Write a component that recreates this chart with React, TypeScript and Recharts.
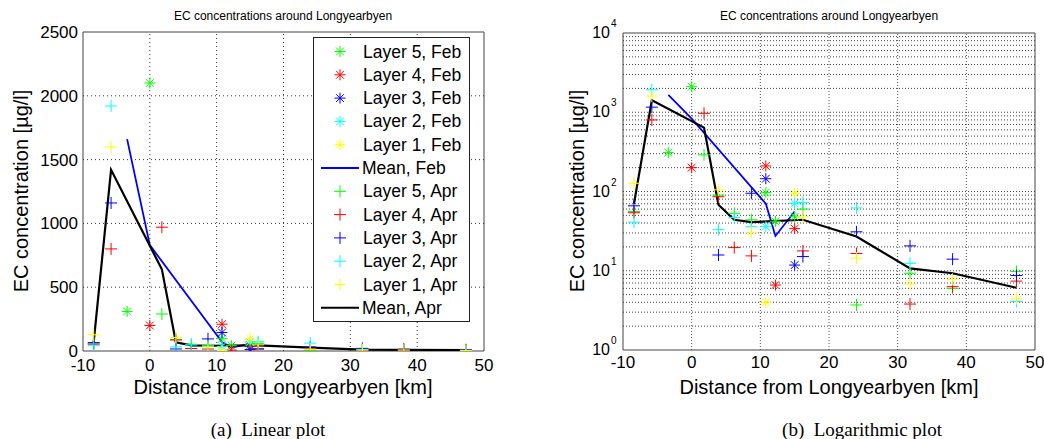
import React from 'react';
import {
  ComposedChart,
  Scatter,
  Line,
  XAxis,
  YAxis,
  ReferenceLine,
  ReferenceArea,
  Legend,
} from 'recharts';

// sampling distances [km]
const febDistance = [-3.4, 0, 10.8, 12.2, 15];
const aprDistance = [-8.4, -5.8, 1.8, 3.9, 6.2, 8.7, 16.2, 24, 31.8, 38, 47.3];

// EC concentration [µg/l], February (asterisks)
const febLayer5 = [310, 2100, 97, 42, 48];
const febLayer4 = [null, 200, 210, 6.6, 34];
const febLayer3 = [null, null, 145, null, 11.8];
const febLayer2 = [null, null, 36, null, 71];
const febLayer1 = [null, null, 4, null, 95];
const febMean = [1660, 830, 70, 27.5, 56];

// EC concentration [µg/l], April (plus markers)
const aprLayer5 = [56, null, 290, 90, 53, 44, 60, 3.7, 9.3, 6.0, 9.8];
const aprLayer4 = [54, 800, 970, 86, 19.6, 15.4, 17.8, 16.5, 3.8, 6.3, 7.4];
const aprLayer3 = [66, 1160, null, 15.8, null, 95, 15.1, 31, 20.6, 14, 8.7];
const aprLayer2 = [41, 1920, null, 33, 47, 36, 73, 62, 12.4, null, 4.1];
const aprLayer1 = [127, 1600, null, 105, null, 30.5, 48, 14.4, 6.8, 7.8, 4.5];
const aprMean = [70, 1420, 640, 68, 44, 41, 44, 27, 10.7, 9.3, 6.1];

const xTicks = [-10, 0, 10, 20, 30, 40, 50];
const linTicks = [0, 500, 1000, 1500, 2000, 2500];
const logTicks = [1, 10, 100, 1000, 10000];

const SANS = '"Liberation Sans", Arial, Helvetica, sans-serif';
const SERIF = '"Liberation Serif", "Times New Roman", serif';

type Pt = { x: number; y: number };
const toPoints = (xs: number[], ys: (number | null)[]): Pt[] =>
  xs.map((x, i) => ({ x, y: ys[i] as number })).filter((p) => p.y != null);

type Series = { name: string; color: string; kind: 'star' | 'plus' | 'line'; data: Pt[] };

const series: Series[] = [
  { name: 'Layer 5, Feb', color: '#00ff00', kind: 'star', data: toPoints(febDistance, febLayer5) },
  { name: 'Layer 4, Feb', color: '#ff0000', kind: 'star', data: toPoints(febDistance, febLayer4) },
  { name: 'Layer 3, Feb', color: '#0000ff', kind: 'star', data: toPoints(febDistance, febLayer3) },
  { name: 'Layer 2, Feb', color: '#00ffff', kind: 'star', data: toPoints(febDistance, febLayer2) },
  { name: 'Layer 1, Feb', color: '#ffff00', kind: 'star', data: toPoints(febDistance, febLayer1) },
  { name: 'Mean, Feb', color: '#0000ff', kind: 'line', data: toPoints(febDistance, febMean) },
  { name: 'Layer 5, Apr', color: '#00ff00', kind: 'plus', data: toPoints(aprDistance, aprLayer5) },
  { name: 'Layer 4, Apr', color: '#ff0000', kind: 'plus', data: toPoints(aprDistance, aprLayer4) },
  { name: 'Layer 3, Apr', color: '#0000ff', kind: 'plus', data: toPoints(aprDistance, aprLayer3) },
  { name: 'Layer 2, Apr', color: '#00ffff', kind: 'plus', data: toPoints(aprDistance, aprLayer2) },
  { name: 'Layer 1, Apr', color: '#ffff00', kind: 'plus', data: toPoints(aprDistance, aprLayer1) },
  { name: 'Mean, Apr', color: '#000000', kind: 'line', data: toPoints(aprDistance, aprMean) },
];

function Star({ cx, cy, color }: { cx: number; cy: number; color: string }) {
  const r = 5.5;
  const d = 3.9;
  return (
    <g stroke={color} strokeWidth={1}>
      <line x1={cx - r} y1={cy} x2={cx + r} y2={cy} />
      <line x1={cx} y1={cy - r} x2={cx} y2={cy + r} />
      <line x1={cx - d} y1={cy - d} x2={cx + d} y2={cy + d} />
      <line x1={cx - d} y1={cy + d} x2={cx + d} y2={cy - d} />
    </g>
  );
}

function Plus({ cx, cy, color }: { cx: number; cy: number; color: string }) {
  const r = 6;
  return (
    <g stroke={color} strokeWidth={1}>
      <line x1={cx - r} y1={cy} x2={cx + r} y2={cy} />
      <line x1={cx} y1={cy - r} x2={cx} y2={cy + r} />
    </g>
  );
}

function LegendBox() {
  const rowH = 23.3;
  return (
    <svg width={158} height={286} style={{ display: 'block' }}>
      <rect x={0.5} y={0.5} width={156} height={284} fill="#fff" stroke="#222" />
      {series.map((s, i) => {
        const cy = 14.5 + i * rowH;
        return (
          <g key={s.name}>
            {s.kind === 'line' ? (
              <line x1={8} y1={cy} x2={46} y2={cy} stroke={s.color} strokeWidth={2} />
            ) : s.kind === 'star' ? (
              <Star cx={27} cy={cy} color={s.color} />
            ) : (
              <Plus cx={27} cy={cy} color={s.color} />
            )}
            <text x={s.kind === 'line' ? 49 : 50} y={cy + 6} fontSize={17.5} fontFamily={SANS} fill="#000">
              {s.name}
            </text>
          </g>
        );
      })}
    </svg>
  );
}

function LogTick(props: any) {
  const { x, y, payload } = props;
  const exp = Math.round(Math.log10(payload.value));
  return (
    <g fontFamily={SANS} fill="#000">
      <text x={x - 9} y={y + 5} textAnchor="end" fontSize={16}>
        10
      </text>
      <text x={x - 8} y={y - 6} fontSize={10}>
        {exp}
      </text>
    </g>
  );
}

const tickStyle = { fontSize: 17, fill: '#000', fontFamily: SANS };

function renderSeries(withLegend: boolean) {
  return series.map((s) =>
    s.kind === 'line' ? (
      <Line
        key={s.name}
        data={s.data}
        dataKey="y"
        stroke={s.color}
        strokeWidth={s.color === '#000000' ? 2.2 : 1.8}
        dot={false}
        activeDot={false}
        type="linear"
        isAnimationActive={false}
        legendType="none"
      />
    ) : (
      <Scatter
        key={s.name}
        data={s.data}
        dataKey="y"
        isAnimationActive={false}
        shape={(p: any) =>
          s.kind === 'star' ? (
            <Star cx={p.cx} cy={p.cy} color={s.color} />
          ) : (
            <Plus cx={p.cx} cy={p.cy} color={s.color} />
          )
        }
      />
    )
  ).concat(
    withLegend
      ? [
          <Legend
            key="legend"
            layout="vertical"
            align="center"
            verticalAlign="middle"
            wrapperStyle={{ left: 313, top: 37, width: 158, height: 286 }}
            content={() => <LegendBox />}
          />,
        ]
      : []
  );
}

function Text({ x, y, size, children, rotate, font }: any) {
  return (
    <div
      style={{
        position: 'absolute',
        left: x,
        top: y,
        transform: `translate(-50%, -50%)${rotate ? ' rotate(-90deg)' : ''}`,
        fontSize: size,
        fontFamily: font || SANS,
        whiteSpace: 'nowrap',
        color: '#000',
        lineHeight: 1,
      }}
    >
      {children}
    </div>
  );
}

export default function App() {
  return (
    <div style={{ position: 'absolute', left: 0, top: 0, width: 1044, height: 439, background: '#fff' }}>
      {/* (a) linear */}
      <div style={{ position: 'absolute', left: 0, top: 0 }}>
        <ComposedChart width={520} height={400} margin={{ top: 32, right: 36, bottom: 19, left: 23 }}>
          <XAxis
            dataKey="x"
            type="number"
            domain={[-10, 50]}
            ticks={xTicks}
            allowDataOverflow
            axisLine={false}
            tickLine={false}
            tickSize={4}
            tickMargin={4}
            tick={tickStyle}
          />
          <YAxis
            dataKey="y"
            type="number"
            domain={[0, 2500]}
            ticks={linTicks}
            allowDataOverflow
            width={60}
            axisLine={false}
            tickLine={false}
            tickSize={3}
            tickMargin={2}
            tick={tickStyle}
          />
          {[0, 10, 20, 30, 40].map((v) => (
            <ReferenceLine key={'vx' + v} x={v} stroke="#333" strokeDasharray="1 3" />
          ))}
          {[500, 1000, 1500, 2000].map((v) => (
            <ReferenceLine key={'hy' + v} y={v} stroke="#333" strokeDasharray="1 3" />
          ))}
          <ReferenceArea x1={-10} x2={50} y1={0} y2={2500} fill="none" stroke="#444" strokeOpacity={1} fillOpacity={0} />
          {renderSeries(true)}
        </ComposedChart>
      </div>

      {/* (b) logarithmic */}
      <div style={{ position: 'absolute', left: 540, top: 0 }}>
        <ComposedChart width={504} height={400} margin={{ top: 33, right: 9, bottom: 20, left: 23 }}>
          <XAxis
            dataKey="x"
            type="number"
            domain={[-10, 50]}
            ticks={xTicks}
            allowDataOverflow
            axisLine={false}
            tickLine={false}
            tickSize={4}
            tickMargin={2}
            tick={tickStyle}
          />
          <YAxis
            dataKey="y"
            type="number"
            scale="log"
            domain={[1, 10000]}
            ticks={logTicks}
            allowDataOverflow
            width={60}
            axisLine={false}
            tickLine={false}
            tickSize={2}
            tickMargin={2}
            tick={<LogTick />}
          />
          {[0, 10, 20, 30, 40].map((v) => (
            <ReferenceLine key={'vx' + v} x={v} stroke="#555" strokeDasharray="1 2" />
          ))}
          {[0, 1, 2, 3].flatMap((k) =>
            [1, 2, 3, 4, 5, 6, 7, 8, 9]
              .filter((m) => !(k === 0 && m === 1))
              .map((m) => (
                <ReferenceLine
                  key={'ly' + k + m}
                  y={m * Math.pow(10, k)}
                  stroke="#444"
                  strokeDasharray="1 2"
                />
              ))
          )}
          <ReferenceArea x1={-10} x2={50} y1={1} y2={10000} fill="none" stroke="#444" fillOpacity={0} />
          {renderSeries(false)}
        </ComposedChart>
      </div>

      <Text x={283} y={16} size={12}>EC concentrations around Longyearbyen</Text>
      <Text x={829} y={16} size={12}>EC concentrations around Longyearbyen</Text>
      <Text x={21} y={191} size={20} rotate>EC concentration [µg/l]</Text>
      <Text x={577} y={191} size={20} rotate>EC concentration [µg/l]</Text>
      <Text x={283} y={387} size={20}>Distance from Longyearbyen [km]</Text>
      <Text x={829} y={387} size={20}>Distance from Longyearbyen [km]</Text>
      <Text x={268} y={429} size={19} font={SERIF}>(a)&nbsp;&nbsp;Linear plot</Text>
      <Text x={862} y={429} size={19} font={SERIF}>(b)&nbsp;&nbsp;Logarithmic plot</Text>
    </div>
  );
}
